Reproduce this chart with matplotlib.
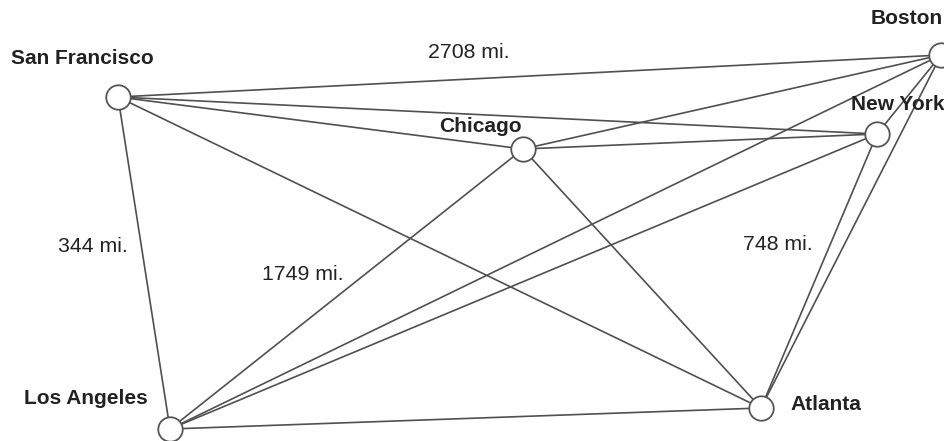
import itertools
import matplotlib
matplotlib.use("Agg")
import matplotlib.pyplot as plt

plt.rcParams['font.family'] = ['Liberation Sans', 'DejaVu Sans']

cities = ["San Francisco", "Boston", "New York", "Chicago", "Los Angeles", "Atlanta"]
node_x = [118, 941, 877, 523, 170, 761]
node_y = [97, 55, 134, 149, 429, 408]

label_x = [82, 907, 898, 480, 86, 826]
label_y = [58, 18, 104, 126, 399, 405]

edge_labels = ["2708 mi.", "344 mi.", "1749 mi.", "748 mi."]
edge_label_x = [469, 93, 303, 778]
edge_label_y = [52, 247, 274, 244]

fig = plt.figure(figsize=(9.44, 4.41), dpi=100)
ax = fig.add_axes([0, 0, 1, 1])
ax.set_xlim(0, 944)
ax.set_ylim(441, 0)
ax.axis('off')

for i, j in itertools.combinations(range(len(cities)), 2):
    ax.plot([node_x[i], node_x[j]], [node_y[i], node_y[j]],
            color='#505050', lw=1.2, zorder=1, solid_capstyle='round')

ax.scatter(node_x, node_y, s=310, facecolor='white', edgecolor='#555555',
           linewidths=1.3, zorder=3, clip_on=False)

for name, lx, ly in zip(cities, label_x, label_y):
    ax.text(lx, ly, name, ha='center', va='center', fontsize=15,
            fontweight='bold', color='#222222', zorder=4)

for t, lx, ly in zip(edge_labels, edge_label_x, edge_label_y):
    ax.text(lx, ly, t, ha='center', va='center', fontsize=15.3,
            color='#222222', zorder=4)

fig.savefig("out.png", dpi=100)
